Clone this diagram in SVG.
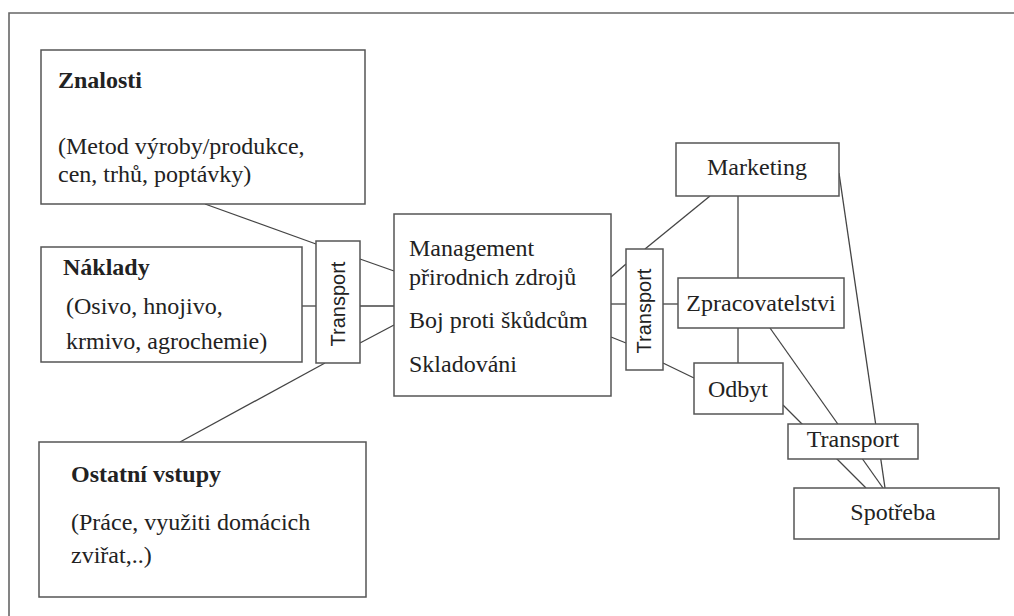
<svg xmlns="http://www.w3.org/2000/svg" width="1014" height="616" viewBox="0 0 1014 616">
<style>
.bg{fill:#ffffff}
.frame{fill:none;stroke:#666;stroke-width:1.6}
.box{fill:#fff;stroke:#555;stroke-width:1.5}
.ln{stroke:#444;stroke-width:1.3;fill:none}
.t{font-family:"Liberation Serif","Times New Roman","Tinos","Noto Serif","DejaVu Serif","FreeSerif","Nimbus Roman","Nimbus Roman No9 L",Times,serif;font-size:24px;fill:#222}
.b{font-weight:bold}
.c{text-anchor:middle}
.s{font-family:"Liberation Sans",Arial,Helvetica,sans-serif;font-size:20px;fill:#222;text-anchor:middle}
</style>
<rect class="bg" x="0" y="0" width="1014" height="616"/>
<path class="frame" d="M9,616 V13 H1014"/>
<g id="connectors">
<line class="ln" x1="205" y1="204" x2="316" y2="244"/>
<line class="ln" x1="302" y1="306" x2="316" y2="306"/>
<line class="ln" x1="180" y1="442" x2="325" y2="363"/>
<line class="ln" x1="360" y1="259" x2="394" y2="271"/>
<line class="ln" x1="360" y1="306" x2="394" y2="306"/>
<line class="ln" x1="360" y1="343" x2="394" y2="325"/>
<line class="ln" x1="611" y1="277" x2="626" y2="264"/>
<line class="ln" x1="611" y1="304" x2="626" y2="304"/>
<line class="ln" x1="611" y1="337" x2="626" y2="343"/>
<line class="ln" x1="645" y1="249" x2="710" y2="196"/>
<line class="ln" x1="663" y1="304" x2="678" y2="304"/>
<line class="ln" x1="663" y1="363" x2="694" y2="378"/>
<line class="ln" x1="738" y1="196" x2="738" y2="278"/>
<line class="ln" x1="738" y1="328" x2="738" y2="363"/>
<line class="ln" x1="839" y1="173" x2="885" y2="488"/>
<line class="ln" x1="770" y1="328" x2="883" y2="488"/>
<line class="ln" x1="783" y1="405" x2="866" y2="488"/>
</g>
<g id="znalosti">
<rect class="box" x="41" y="50" width="324" height="154"/>
<text class="t b" x="58" y="88">Znalosti</text>
<text class="t" x="58" y="154">(Metod výroby/produkce,</text>
<text class="t" x="58" y="182">cen, trhů, poptávky)</text>
</g>
<g id="naklady">
<rect class="box" x="41" y="247" width="261" height="115"/>
<text class="t b" x="63" y="275">Náklady</text>
<text class="t" x="66" y="314">(Osivo, hnojivo,</text>
<text class="t" x="66" y="349">krmivo, agrochemie)</text>
</g>
<g id="ostatni">
<rect class="box" x="39" y="442" width="327" height="155"/>
<text class="t b" x="71" y="482">Ostatní vstupy</text>
<text class="t" x="71" y="530">(Práce, využiti domácich</text>
<text class="t" x="71" y="563">zviřat,..)</text>
</g>
<g id="transport1">
<rect class="box" x="316" y="241" width="44" height="122"/>
<text class="s" transform="translate(345,304) rotate(-90)">Transport</text>
</g>
<g id="management">
<rect class="box" x="394" y="214" width="217" height="182"/>
<text class="t" x="409" y="256">Management</text>
<text class="t" x="409" y="285">přirodnich zdrojů</text>
<text class="t" x="409" y="328">Boj proti škůdcům</text>
<text class="t" x="409" y="372">Skladováni</text>
</g>
<g id="transport2">
<rect class="box" x="626" y="249" width="37" height="121"/>
<text class="s" transform="translate(651,311) rotate(-90)">Transport</text>
</g>
<g id="marketing">
<rect class="box" x="676" y="143" width="163" height="53"/>
<text class="t c" x="757" y="175">Marketing</text>
</g>
<g id="zpracovatelstvi">
<rect class="box" x="678" y="278" width="166" height="50"/>
<text class="t c" x="761" y="311">Zpracovatelstvi</text>
</g>
<g id="odbyt">
<rect class="box" x="694" y="363" width="89" height="51"/>
<text class="t c" x="738" y="397">Odbyt</text>
</g>
<g id="transport3">
<rect class="box" x="788" y="424" width="130" height="35"/>
<text class="t c" x="853" y="447">Transport</text>
</g>
<g id="spotreba">
<rect class="box" x="794" y="488" width="205" height="51"/>
<text class="t c" x="893" y="520">Spotřeba</text>
</g>
</svg>
